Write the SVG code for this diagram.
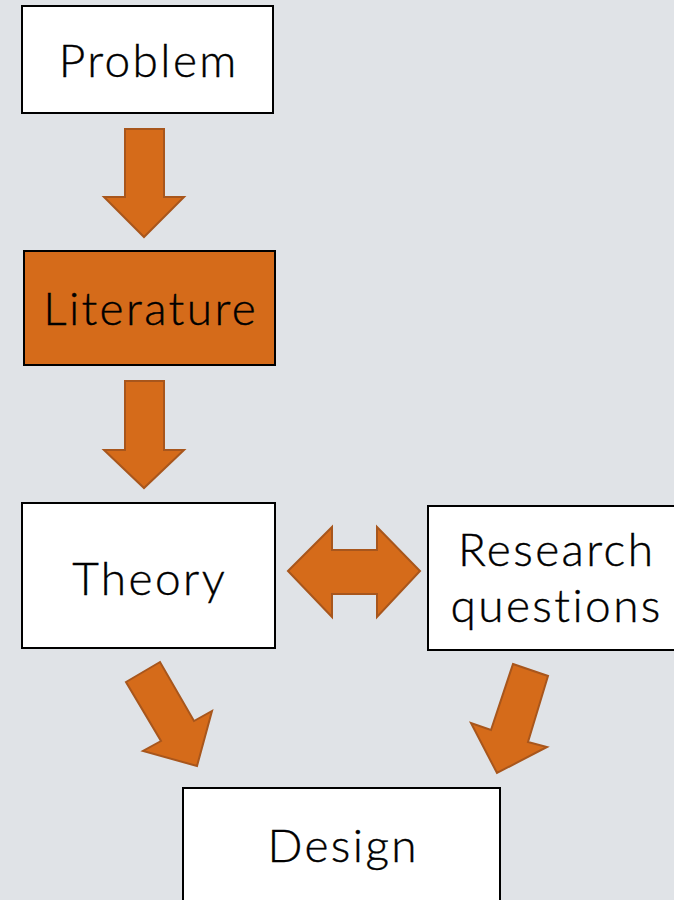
<svg xmlns="http://www.w3.org/2000/svg" width="674" height="900" viewBox="0 0 674 900">
<style>
.box{fill:#ffffff;stroke:#000000;stroke-width:2}
.lit{fill:#D56B1A;stroke:#000000;stroke-width:2}
.lbl{font-family:Lato,"Noto Sans","Liberation Sans",sans-serif;font-size:46px;font-weight:300;letter-spacing:2.4px;fill:#000000;text-anchor:middle;stroke:#000000;stroke-width:0.4px}
.arr{fill:#D56B1A;stroke:#A8561C;stroke-width:2;stroke-linejoin:miter}
</style>
<rect x="0" y="0" width="674" height="900" fill="#E0E3E7"/>
<g id="connectors">
<polygon class="arr" points="125,129 164,129 164,197 184,197 144,237 104,197 125,197"/>
<polygon class="arr" points="125,381 164,381 164,450 184,450 144,488 104,450 125,450"/>
<polygon class="arr" points="288,571 332,527 332,550 377,550 377,527 420,571 377,617 377,594 332,594 332,617"/>
<polygon class="arr" points="126,682 160,662 194,721 212,711 197,766 143,751 161,741"/>
<polygon class="arr" points="513,664 548,676 528,742 547,747 497,773 471,723 491,730"/>
</g>
<g id="problem">
<rect class="box" x="22" y="6" width="251" height="107"/>
<text class="lbl" x="148.7" y="77">Problem</text>
</g>
<g id="literature">
<rect class="lit" x="24" y="251" width="251" height="114"/>
<text class="lbl" x="150.7" y="325">Literature</text>
</g>
<g id="theory">
<rect class="box" x="22" y="503" width="253" height="145"/>
<text class="lbl" x="149.7" y="595">Theory</text>
</g>
<g id="research">
<rect class="box" x="428" y="506" width="260" height="144"/>
<text class="lbl" x="556.7" y="566">Research</text>
<text class="lbl" x="556.7" y="622">questions</text>
</g>
<g id="design">
<rect class="box" x="183" y="788" width="317" height="130"/>
<text class="lbl" x="343.2" y="862">Design</text>
</g>
</svg>
